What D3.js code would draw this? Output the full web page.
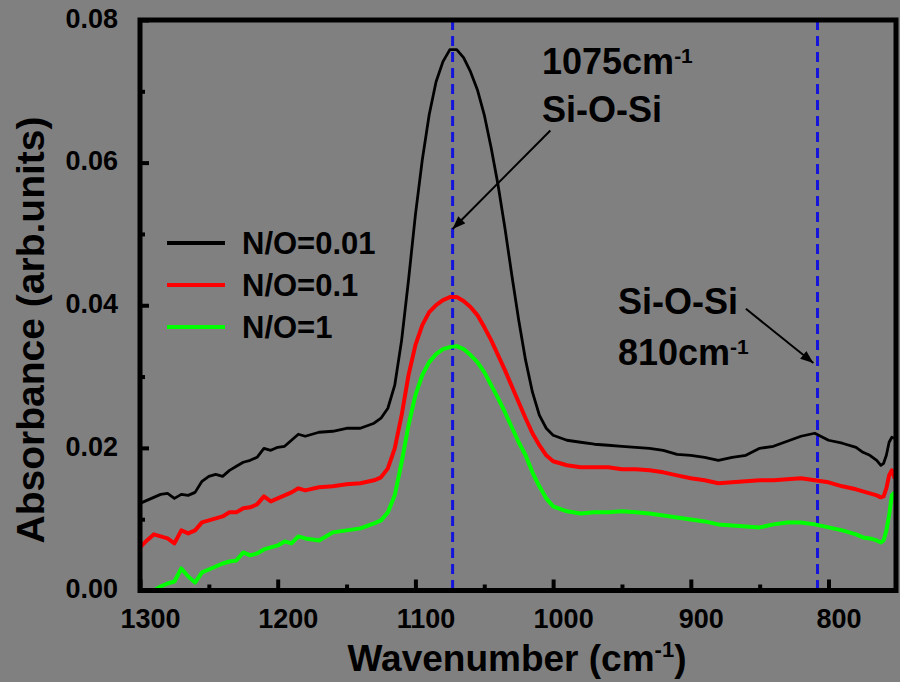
<!DOCTYPE html>
<html><head><meta charset="utf-8">
<script src="https://cdn.jsdelivr.net/npm/d3@7"></script>
<style>
html,body{margin:0;padding:0;background:#808080;}
svg{display:block;}
text{font-family:"Liberation Sans",Arial,sans-serif;font-weight:bold;fill:#000;}
</style>
</head><body>
<svg id="chart" width="900" height="682"></svg>
<script>
// ---- data ----
const wavenumbers = [1300,1295,1290,1285,1280,1275,1270,1265,1260,1255,
  1250,1245,1240,1235,1230,1225,1220,1215,1210,1205,
  1200,1195,1190,1185,1180,1170,1160,1150,1140,1130,
  1125,1120,1115,1110,1105,1100,1095,1090,1085,1080,
  1075,1070,1065,1060,1055,1050,1045,1040,1035,1030,
  1025,1020,1015,1010,1005,1000,990,980,970,960,
  950,940,930,920,910,900,890,880,870,860,
  850,840,830,820,810,800,790,780,775,770,
  765,762,760,758,756,754,752];
const absNO001 = [0.01222,0.01264,0.01306,0.01348,0.01362,0.01292,0.01348,0.01334,0.01376,0.01531,
  0.01601,0.01629,0.01601,0.01685,0.01742,0.01798,0.01826,0.01868,0.01994,0.01966,
  0.02008,0.02022,0.02107,0.02191,0.02163,0.02219,0.02233,0.02275,0.02275,0.02346,
  0.02416,0.02556,0.02879,0.03511,0.04354,0.05267,0.06039,0.06671,0.07135,0.07416,
  0.07584,0.07584,0.07472,0.07275,0.07022,0.06671,0.06208,0.05688,0.05084,0.04424,
  0.03792,0.03230,0.02781,0.02458,0.02275,0.02177,0.02107,0.02079,0.02051,0.02037,
  0.02022,0.02008,0.01994,0.01966,0.01910,0.01896,0.01868,0.01826,0.01868,0.01896,
  0.01994,0.02022,0.02093,0.02163,0.02205,0.02107,0.02065,0.02008,0.01938,0.01896,
  0.01826,0.01756,0.01784,0.01896,0.02079,0.02149,0.02135];
const absNO01 = [0.00604,0.00702,0.00787,0.00758,0.00730,0.00660,0.00843,0.00801,0.00843,0.00955,
  0.00983,0.01011,0.01039,0.01096,0.01096,0.01152,0.01166,0.01208,0.01320,0.01250,
  0.01292,0.01334,0.01376,0.01433,0.01404,0.01447,0.01461,0.01489,0.01503,0.01545,
  0.01587,0.01713,0.01994,0.02458,0.03020,0.03441,0.03722,0.03904,0.04003,0.04073,
  0.04115,0.04115,0.04059,0.03975,0.03862,0.03694,0.03511,0.03301,0.03090,0.02865,
  0.02640,0.02416,0.02205,0.02037,0.01896,0.01812,0.01756,0.01728,0.01728,0.01728,
  0.01699,0.01699,0.01685,0.01657,0.01615,0.01573,0.01545,0.01503,0.01517,0.01531,
  0.01545,0.01545,0.01559,0.01573,0.01545,0.01517,0.01461,0.01419,0.01390,0.01362,
  0.01334,0.01306,0.01320,0.01433,0.01615,0.01685,0.01573];
const absNO1 = [0.00000,-0.00014,0.00000,0.00056,0.00098,0.00126,0.00309,0.00197,0.00112,0.00253,
  0.00295,0.00337,0.00379,0.00407,0.00421,0.00534,0.00492,0.00520,0.00576,0.00604,
  0.00632,0.00688,0.00660,0.00758,0.00730,0.00702,0.00815,0.00843,0.00871,0.00941,
  0.00983,0.01096,0.01334,0.01798,0.02317,0.02739,0.03020,0.03202,0.03315,0.03385,
  0.03413,0.03427,0.03385,0.03301,0.03202,0.03062,0.02879,0.02697,0.02500,0.02289,
  0.02079,0.01896,0.01657,0.01461,0.01292,0.01180,0.01110,0.01081,0.01096,0.01096,
  0.01110,0.01096,0.01081,0.01053,0.01025,0.00997,0.00969,0.00927,0.00913,0.00899,
  0.00885,0.00927,0.00955,0.00955,0.00927,0.00885,0.00843,0.00787,0.00744,0.00730,
  0.00702,0.00674,0.00702,0.00843,0.01053,0.01334,0.01376];
const seriesNames = ["N/O=0.01","N/O=0.1","N/O=1"];
const seriesColors = ["#000000","#ff0000","#00ff00"];
const xMajorTicks = [1300,1200,1100,1000,900,800];
const xMinorTicks = [1250,1150,1050,950,850];
const yMajorTicks = [0,0.02,0.04,0.06,0.08];
const yMinorTicks = [0.01,0.03,0.05,0.07];
const peakLines = [1073, 808];

// ---- chart ----
const svg = d3.select("#chart");
svg.append("rect").attr("width",900).attr("height",682).attr("fill","#808080");

const x = d3.scaleLinear().domain([1300, 751]).range([140, 896]);
const y = d3.scaleLinear().domain([0, 0.08]).range([590.5, 20]);

svg.append("defs").append("clipPath").attr("id","clip")
  .append("rect").attr("x",140).attr("y",20).attr("width",756).attr("height",570.5);

// dashed peak lines
svg.append("g").selectAll("line").data(peakLines).join("line")
  .attr("x1",d=>x(d)).attr("x2",d=>x(d))
  .attr("y1",y(0.08)).attr("y2",y(0))
  .attr("stroke","#1414dc").attr("stroke-width",3).attr("stroke-dasharray","10,6");

// series
const allSeries = [absNO001, absNO01, absNO1];
const widths = [2.8, 4, 4];
const line = d3.line().x(d=>x(d[0])).y(d=>y(d[1]));
const plot = svg.append("g").attr("clip-path","url(#clip)");
[2,1,0].forEach(i=>{
  const pts = wavenumbers.map((w,j)=>[w, allSeries[i][j]]);
  plot.append("path").datum(pts).attr("d",line)
    .attr("fill","none").attr("stroke",seriesColors[i])
    .attr("stroke-width",widths[i]).attr("stroke-linejoin","round");
});

// axes
const xAxis = svg.append("g").attr("transform",`translate(0,${y(0)})`)
  .call(d3.axisBottom(x).tickValues(xMajorTicks).tickSize(-11).tickPadding(18).tickFormat(d3.format("d")));
xAxis.selectAll("text").attr("dx",10).style("font-size","27px");
const xMinor = svg.append("g").attr("transform",`translate(0,${y(0)})`)
  .call(d3.axisBottom(x).tickValues(xMinorTicks).tickSize(-6).tickFormat(""));
const yAxis = svg.append("g").attr("transform",`translate(${x(1300)},0)`)
  .call(d3.axisLeft(y).tickValues(yMajorTicks).tickSize(-9).tickPadding(22).tickFormat(d3.format(".2f")));
yAxis.selectAll("text").attr("dy","0.27em").style("font-size","27px");
const yMinor = svg.append("g").attr("transform",`translate(${x(1300)},0)`)
  .call(d3.axisLeft(y).tickValues(yMinorTicks).tickSize(-5).tickFormat(""));
[xAxis,xMinor,yAxis,yMinor].forEach(g=>{
  g.select(".domain").remove();
  g.selectAll(".tick line").attr("stroke","#000").attr("stroke-width",4);
  g.selectAll("text").attr("fill","#000").style("font-family",'"Liberation Sans",Arial,sans-serif').style("font-weight","bold");
});

// frame
svg.append("rect").attr("x",140).attr("y",20).attr("width",756).attr("height",570.5)
  .attr("fill","none").attr("stroke","#000").attr("stroke-width",5);

// axis titles
const xt = svg.append("text").attr("x",517).attr("y",671).attr("text-anchor","middle").style("font-size","37px");
xt.append("tspan").text("Wavenumber (cm");
xt.append("tspan").text("-1").style("font-size","22px").attr("dy",-14);
xt.append("tspan").text(")").attr("dy",14);
svg.append("text").attr("transform","translate(44,330) rotate(-90)").attr("text-anchor","middle")
  .style("font-size","39px").text("Absorbance (arb.units)");

// legend
seriesNames.forEach((name,i)=>{
  const yy = 243 + i*42;
  svg.append("line").attr("x1",167).attr("x2",225).attr("y1",yy).attr("y2",yy)
    .attr("stroke",seriesColors[i]).attr("stroke-width",4);
  svg.append("text").attr("x",242).attr("y",yy+11).style("font-size","31px").text(name);
});

// annotations
const defs = svg.select("defs");
defs.append("marker").attr("id","arrow").attr("markerUnits","userSpaceOnUse")
  .attr("markerWidth",14).attr("markerHeight",10).attr("refX",13).attr("refY",5)
  .attr("orient","auto").append("path").attr("d","M0,0 L13,5 L0,10 z").attr("fill","#000");

function supText(px, py, main, sup){
  const t = svg.append("text").attr("x",px).attr("y",py).style("font-size","36px");
  t.append("tspan").text(main);
  t.append("tspan").text(sup).style("font-size","21px").attr("dy",-11);
}
supText(542, 74, "1075cm", "-1");
svg.append("text").attr("x",542).attr("y",122).style("font-size","36px").text("Si-O-Si");
svg.append("text").attr("x",618).attr("y",314).style("font-size","36px").text("Si-O-Si");
supText(618, 365, "810cm", "-1");

const arrows = [[[1002,0.0645],[1073,0.0507]], [[860,0.0395],[811,0.0319]]];
svg.append("g").selectAll("line").data(arrows).join("line")
  .attr("x1",d=>x(d[0][0])).attr("y1",d=>y(d[0][1]))
  .attr("x2",d=>x(d[1][0])).attr("y2",d=>y(d[1][1]))
  .attr("stroke","#000").attr("stroke-width",2).attr("marker-end","url(#arrow)");
</script>
</body></html>
